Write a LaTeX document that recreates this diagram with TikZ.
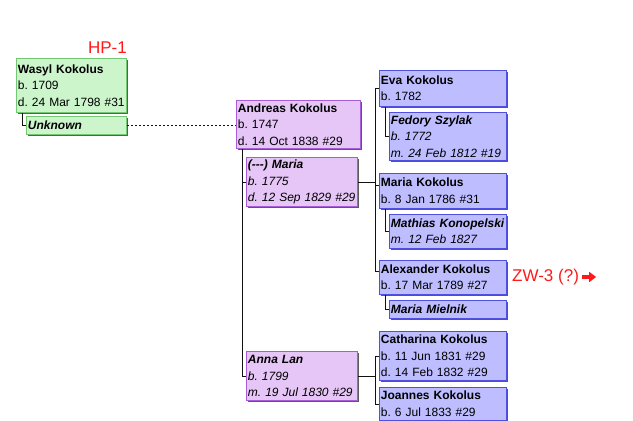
\documentclass[tikz,border=0pt]{standalone}
\usepackage{fontspec}
\setsansfont{Liberation Sans}
\usetikzlibrary{arrows.meta,shadows}
\definecolor{TreeGreen}{HTML}{74C874}
\definecolor{TreeGreenFill}{HTML}{CCF5CC}
\definecolor{TreePurple}{HTML}{A75CD8}
\definecolor{TreePurpleFill}{HTML}{E6C6F6}
\definecolor{TreeBlue}{HTML}{5050E0}
\definecolor{TreeBlueFill}{HTML}{BDBDFF}
\definecolor{TreeRed}{HTML}{FF1A1A}
\definecolor{TreeInk}{HTML}{111111}

\begin{document}
\begin{tikzpicture}[
    x=1pt, y=-1pt,
    font=\sffamily,
    person/.style={
        rectangle,
        anchor=north west,
        line width=0.9pt,
        inner xsep=1.5pt,
        inner ysep=0pt,
        align=left,
        execute at begin node=\frenchspacing,
        font=\sffamily\fontsize{12}{16.5}\selectfont,
        drop shadow={shadow xshift=1.4pt, shadow yshift=-1.4pt,
            opacity=0.8, fill=black!80}
    },
    rootgen/.style={person, draw=TreeGreen, fill=TreeGreenFill},
    secondgen/.style={person, draw=TreePurple, fill=TreePurpleFill},
    thirdgen/.style={person, draw=TreeBlue, fill=TreeBlueFill},
    treeline/.style={line width=0.8pt, draw=TreeInk},
    marriage/.style={line width=0.8pt, draw=TreeInk,
        dash pattern=on 2pt off 2pt},
    tag/.style={
        inner sep=0pt,
        text=TreeRed,
        font=\sffamily\fontsize{17}{20}\selectfont
    },
    jump/.style={
        -{Triangle[length=7pt,width=10pt]},
        line width=4pt,
        draw=TreeRed
    }
]
    \useasboundingbox (0,0) rectangle (633,421);

    \node[rootgen, text width=107pt, minimum height=54pt] (wasyl) at (16,58)
        {\textbf{Wasyl Kokolus}\\b. 1709\\d. 24 Mar 1798 \#31};
    \node[rootgen, text width=97pt, minimum height=18pt] (unknown) at (26,116)
        {\textbf{\textit{Unknown}}};
    \node[tag, anchor=south east] (hpone) at (127,54) {HP-1};

    \node[secondgen, text width=121pt, minimum height=48pt] (andreas) at (236,100)
        {\textbf{Andreas Kokolus}\\b. 1747\\d. 14 Oct 1838 \#29};
    \node[secondgen, text width=108pt, minimum height=49pt] (maria) at (246,157)
        {\textbf{\textit{(-{}-{}-) Maria}}\\\textit{b. 1775}\\\textit{d. 12 Sep 1829 \#29}};
    \node[secondgen, text width=108pt, minimum height=49pt] (anna) at (246,351)
        {\textbf{\textit{Anna Lan}}\\\textit{b. 1799}\\\textit{m. 19 Jul 1830 \#29}};

    \node[thirdgen, text width=124pt, minimum height=36pt] (eva) at (379,70)
        {\textbf{Eva Kokolus}\\b. 1782};
    \node[thirdgen, text width=114pt, minimum height=48pt] (fedory) at (389,112)
        {\textbf{\textit{Fedory Szylak}}\\\textit{b. 1772}\\\textit{m. 24 Feb 1812 \#19}};
    \node[thirdgen, text width=124pt, minimum height=35pt] (mariak) at (379,173)
        {\textbf{Maria Kokolus}\\b. 8 Jan 1786 \#31};
    \node[thirdgen, text width=114pt, minimum height=34pt] (mathias) at (389,214)
        {\textbf{\textit{\mbox{Mathias Konopelski}}}\\\textit{m. 12 Feb 1827}};
    \node[thirdgen, text width=124pt, minimum height=34pt] (alexander) at (379,260)
        {\textbf{Alexander Kokolus}\\b. 17 Mar 1789 \#27};
    \node[thirdgen, text width=114pt, minimum height=18pt] (mielnik) at (389,300)
        {\textbf{\textit{Maria Mielnik}}};
    \node[thirdgen, text width=124pt, minimum height=49pt] (catharina) at (379,331)
        {\textbf{Catharina Kokolus}\\b. 11 Jun 1831 \#29\\d. 14 Feb 1832 \#29};
    \node[thirdgen, text width=124pt, minimum height=33pt] (joannes) at (379,387)
        {\textbf{Joannes Kokolus}\\b. 6 Jul 1833 \#29};

    \node[tag, anchor=west] (zwthree) at (512,277) {ZW-3 (?)};
    \draw[jump] ([xshift=3pt]zwthree.east) -- ++(14,0);

    % spouses
    \draw[treeline] ([xshift=6pt]wasyl.south west) |- (unknown.west);
    \draw[marriage] (unknown.east) -- (unknown.east -| andreas.west);
    \coordinate (andreasbus) at ([xshift=6pt]andreas.south west);
    \draw[treeline] (andreasbus) |- (anna.west);
    \draw[treeline] (andreasbus |- maria.west) -- (maria.west);
    \draw[treeline] ([xshift=6pt]eva.south west) |- (fedory.west);
    \draw[treeline] ([xshift=6pt]mariak.south west) |- (mathias.west);
    \draw[treeline] ([xshift=6pt]alexander.south west) |- (mielnik.west);

    % children
    \draw[treeline] (maria.east) -- ++(17,0) coordinate (mariabus);
    \draw[treeline] (eva.west) -| (mariabus) |- ([yshift=6pt]alexander.west);
    \draw[treeline] ([yshift=6pt]mariak.west -| mariabus) -- ([yshift=6pt]mariak.west);
    \draw[treeline] (anna.east) -- ++(17,0) coordinate (annabus);
    \draw[treeline] (catharina.west) -| (annabus) |- (joannes.west);
\end{tikzpicture}
\end{document}
